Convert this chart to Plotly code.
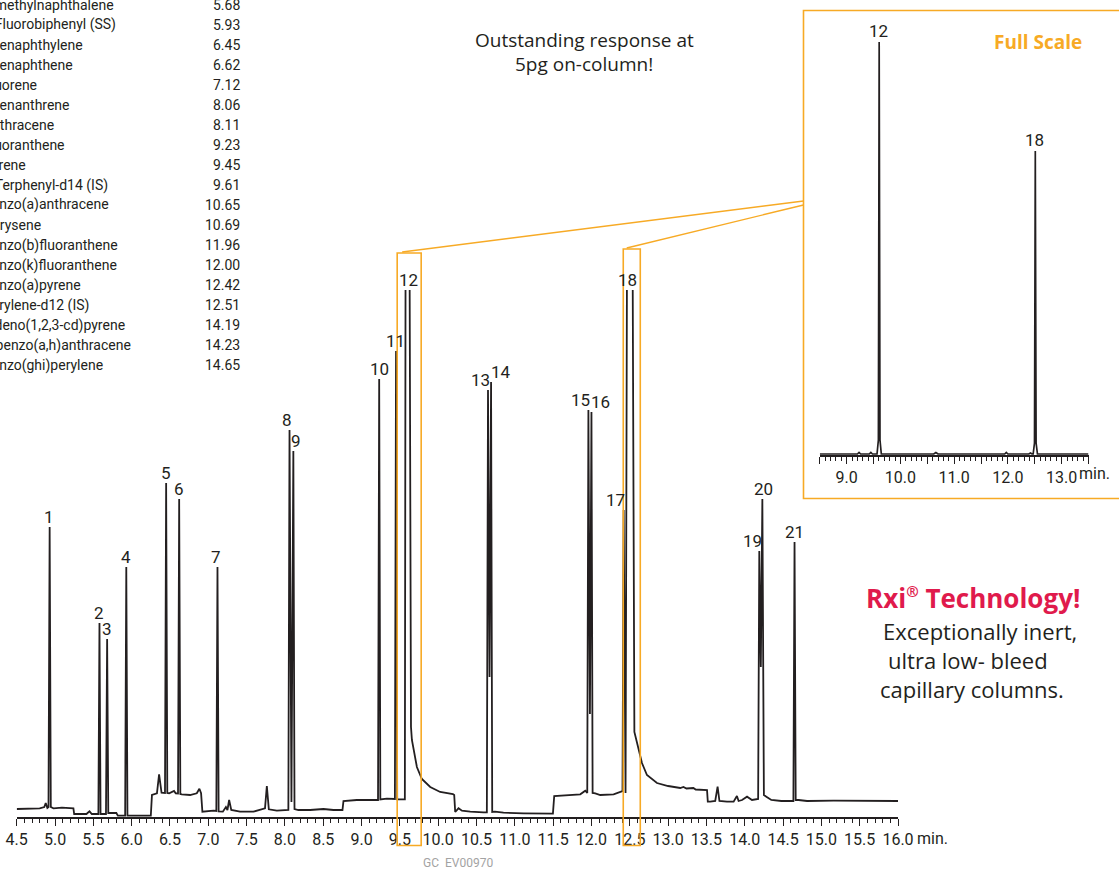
import plotly.graph_objects as go

W, H = 1119, 869

# ---------------------------------------------------------------- data
PEAK_NO = [str(i) for i in range(1, 22)]
COMPOUNDS = [
    "Naphthalene", "2-methylnaphthalene", "1-methylnaphthalene",
    "2-Fluorobiphenyl (SS)", "Acenaphthylene", "Acenaphthene", "Fluorene",
    "Phenanthrene", "Anthracene", "Fluoranthene", "Pyrene",
    "p-Terphenyl-d14 (IS)", "Benzo(a)anthracene", "Chrysene",
    "Benzo(b)fluoranthene", "Benzo(k)fluoranthene", "Benzo(a)pyrene",
    "Perylene-d12 (IS)", "Indeno(1,2,3-cd)pyrene", "Dibenzo(a,h)anthracene",
    "Benzo(ghi)perylene",
]
RET_TIME = [4.93, 5.58, 5.68, 5.93, 6.45, 6.62, 7.12, 8.06, 8.11, 9.23, 9.45,
            9.61, 10.65, 10.69, 11.96, 12.00, 12.42, 12.51, 14.19, 14.23, 14.65]
RET_TIME_TEXT = ["4.93", "5.58", "5.68", "5.93", "6.45", "6.62", "7.12", "8.06",
                 "8.11", "9.23", "9.45", "9.61", "10.65", "10.69", "11.96",
                 "12.00", "12.42", "12.51", "14.19", "14.23", "14.65"]
# apex heights on the main (expanded) scale; 12 and 18 are off scale
PEAK_APEX = [290, 194, 178, 250, 334, 318, 250, 387, 366, 438, 466, 600,
             427, 435, 407, 405, 307, 600, 266, 318, 275]

TRACE_T = [
    4.50, 4.63, 4.80, 4.86, 4.879, 4.90, 4.915, 4.93, 4.945, 4.98, 5.09, 5.24,
    5.25, 5.41, 5.45, 5.48, 5.566, 5.58, 5.594, 5.665, 5.68, 5.695, 5.80, 5.82,
    5.915, 5.93, 5.945, 6.25, 6.265, 6.33, 6.358, 6.39, 6.435, 6.45, 6.465,
    6.49, 6.553, 6.575, 6.605, 6.62, 6.635, 6.654, 6.762, 6.85, 6.884, 6.906,
    6.923, 7.067, 7.105, 7.12, 7.135, 7.19, 7.23, 7.25, 7.272, 7.30, 7.415,
    7.589, 7.676, 7.74, 7.764, 7.79, 7.894, 8.025, 8.045, 8.06, 8.085, 8.11,
    8.125, 8.176, 8.329, 8.503, 8.633, 8.751, 8.764, 8.938, 9.20, 9.215, 9.23,
    9.245, 9.33, 9.41, 9.435, 9.45, 9.465, 9.482, 9.565, 9.575, 9.625, 9.645,
    9.657, 9.722, 9.787, 9.896, 10.026, 10.192, 10.209, 10.222, 10.265, 10.31,
    10.418, 10.592, 10.635, 10.65, 10.67, 10.69, 10.705, 10.74, 10.852,
    11.113, 11.375, 11.497, 11.514, 11.68, 11.854, 11.919, 11.935, 11.945,
    11.96, 11.98, 12.00, 12.015, 12.05, 12.115, 12.289, 12.376, 12.405, 12.42,
    12.445, 12.465, 12.535, 12.56, 12.615, 12.659, 12.724, 12.855, 13.00,
    13.159, 13.20, 13.24, 13.33, 13.36, 13.508, 13.518, 13.55, 13.615, 13.646,
    13.67, 13.768, 13.855, 13.898, 13.92, 13.965, 14.03, 14.095, 14.138,
    14.175, 14.19, 14.21, 14.23, 14.25, 14.282, 14.347, 14.478, 14.608, 14.635,
    14.65, 14.665, 14.703, 14.813, 15.16, 15.42, 16.05,
]
TRACE_S = [
    8, 8.3, 8.7, 10, 14, 9, 10, 290, 10, 8.7, 9.3, 8.7,
    3, 3, 5.7, 3, 3, 194, 3, 3, 178, 4, 4, 1.3,
    1.3, 250, 1.3, 1.3, 22, 23.7, 42.7, 24.3, 24, 334, 24,
    23.7, 26, 23.7, 23.5, 318, 23, 22.7, 22, 23.7, 28.3, 23.7,
    5.3, 6.3, 6, 250, 5.5, 5.3, 10, 7, 17, 7, 5.3,
    5.3, 7.7, 8.7, 31, 7.7, 6.3, 6.3, 7, 387, 15, 366,
    8, 7, 7, 8, 7, 7, 16, 17, 17, 17, 438,
    17.5, 18.3, 18, 18, 466, 17.7, 17.7, 17.7, 600, 600, 90,
    77, 50, 38, 30, 25, 23, 22, 5, 8.7, 6.3,
    5.3, 4.7, 4.7, 427, 140, 435, 5, 5.3, 4.3,
    3.7, 3.7, 3.3, 21, 21.7, 22.7, 26.3, 24, 24,
    407, 103, 405, 24, 23.7, 22, 22.7, 25.3, 26, 307,
    24, 600, 600, 85, 67, 54, 42, 34, 31,
    29, 30, 28.5, 29, 27.5, 27, 15.3, 15.3, 16, 30.3,
    16, 15.3, 15.3, 21, 16, 17, 20.3, 17, 17.7,
    18, 266, 150, 318, 22, 20.3, 17, 16, 16, 16,
    275, 17, 17, 16, 16.3, 16, 16,
]

# digitised "full scale" inset trace
INSET_T = [8.50, 9.20, 9.23, 9.26, 9.42, 9.45, 9.48, 9.565, 9.59, 9.605, 9.62,
           9.645, 10.62, 10.66, 10.70, 11.94, 11.97, 12.00, 12.39, 12.42,
           12.45, 12.47, 12.495, 12.51, 12.525, 12.55, 13.50]
INSET_S = [1, 1, 2.5, 1, 1, 2.5, 1, 1, 15, 413, 15, 1, 1, 2.5, 1, 1, 2.5, 1, 1,
           2, 1, 1, 12, 304, 12, 1, 1]
INSET_PEAKS = ["12", "18"]
INSET_PEAK_T = [9.605, 12.51]
INSET_PEAK_S = [413, 304]

MAIN_TICKS = [4.5 + 0.5 * i for i in range(24)]
MAIN_TICK_TEXT = ["4.5", "5.0", "5.5", "6.0", "6.5", "7.0", "7.5", "8.0", "8.5",
                  "9.0", "9.5", "10.0", "10.5", "11.0", "11.5", "12.0", "12.5",
                  "13.0", "13.5", "14.0", "14.5", "15.0", "15.5", "16.0"]
INSET_TICKS = [8.5, 9.0, 9.5, 10.0, 10.5, 11.0, 11.5, 12.0, 12.5, 13.0, 13.5]
INSET_TICK_TEXT = ["", "9.0", "", "10.0", "", "11.0", "", "12.0", "", "13.0", ""]

ZOOM_WINDOWS = [(9.465, 9.778), (12.415, 12.637)]

# ---------------------------------------------------------------- style
INK = "#231F20"
ORANGE = "#F7AA25"
RED = "#E01A4C"
NUM_FONT = "Roboto, sans-serif"
TXT_FONT = "Open Sans, sans-serif"

MAIN_PX = (16.7, 898.0)     # x pixel span of main axis
MAIN_PY = (817.0, 290.0)    # y pixel span of main plot (bottom, top)
YTOP = MAIN_PY[0] - MAIN_PY[1]
INSET_PX = (819.8, 1088.5)
INSET_PY = (455.0, 20.0)

LABEL_DX = {1: -1, 7: -1, 8: -3, 9: 3, 11: -1, 13: -8, 14: 10, 15: -8,
            16: 9, 17: -8, 18: -3, 19: -7, 20: 1}
LABEL_DY = 10


def pxx(px):
    return px / W


def pyy(py):
    return 1 - py / H


def main_t_to_px(t):
    return MAIN_PX[0] + (t - 4.5) / (16.0 - 4.5) * (MAIN_PX[1] - MAIN_PX[0])


fig = go.Figure()
fig.add_trace(go.Scatter(x=TRACE_T, y=TRACE_S, mode="lines",
                         line=dict(color=INK, width=1.8), hoverinfo="skip",
                         showlegend=False, xaxis="x", yaxis="y"))
fig.add_trace(go.Scatter(x=INSET_T, y=INSET_S, mode="lines",
                         line=dict(color=INK, width=1.7), hoverinfo="skip",
                         showlegend=False, xaxis="x2", yaxis="y2"))

ann = []
# peak labels
for no, t, h in zip(PEAK_NO, RET_TIME, PEAK_APEX):
    ann.append(dict(xref="x", yref="y", x=t, y=min(h, YTOP), text=no,
                    showarrow=False, xanchor="center", yanchor="middle",
                    xshift=LABEL_DX.get(int(no), 0), yshift=LABEL_DY,
                    font=dict(family=NUM_FONT, size=17, color=INK)))
for no, t, h in zip(INSET_PEAKS, INSET_PEAK_T, INSET_PEAK_S):
    ann.append(dict(xref="x2", yref="y2", x=t, y=h, text=no, showarrow=False,
                    xanchor="center", yanchor="middle", xshift=-1, yshift=11,
                    font=dict(family=NUM_FONT, size=17, color=INK)))

# compound table (cropped at the top-left of the page; rows 1-2 are off page)
for k, (name, rt) in enumerate(zip(COMPOUNDS, RET_TIME_TEXT)):
    py = -35 + 20 * k
    if py < 0:
        continue
    ann.append(dict(xref="paper", yref="paper", x=pxx(-19.5), y=pyy(py),
                    text=name, showarrow=False, xanchor="left",
                    yanchor="middle",
                    font=dict(family=NUM_FONT, size=14, color=INK)))
    ann.append(dict(xref="paper", yref="paper", x=pxx(242), y=pyy(py),
                    text=rt, showarrow=False, xanchor="right",
                    yanchor="middle",
                    font=dict(family=NUM_FONT, size=14, color=INK)))

# free texts
free = [
    dict(x=pxx(584), y=pyy(40), text="Outstanding response at",
         font=dict(family=TXT_FONT, size=19, color=INK)),
    dict(x=pxx(584), y=pyy(64), text="5pg on-column!",
         font=dict(family=TXT_FONT, size=19, color=INK)),
    dict(x=pxx(1038), y=pyy(42), text="<b>Full Scale</b>",
         font=dict(family=TXT_FONT, size=19, color=ORANGE)),
    dict(x=pxx(973), y=pyy(598),
         text="<b>Rxi<sup><span style='font-size:15px'>®</span></sup>"
              " Technology!</b>",
         font=dict(family=TXT_FONT, size=26, color=RED)),
    dict(x=pxx(980), y=pyy(631), text="Exceptionally inert,",
         font=dict(family=TXT_FONT, size=22, color=INK)),
    dict(x=pxx(968), y=pyy(660), text="ultra low- bleed",
         font=dict(family=TXT_FONT, size=22, color=INK)),
    dict(x=pxx(972), y=pyy(689), text="capillary columns.",
         font=dict(family=TXT_FONT, size=22, color=INK)),
    dict(x=pxx(932), y=pyy(838), text="min.",
         font=dict(family=NUM_FONT, size=16, color=INK)),
    dict(x=pxx(1094), y=pyy(474), text="min.",
         font=dict(family=NUM_FONT, size=16, color=INK)),
    dict(x=pxx(458), y=pyy(863), text="GC\u00a0\u00a0EV00970",
         font=dict(family=NUM_FONT, size=12, color="#A3A3A3")),
]
for a in free:
    a.update(xref="paper", yref="paper", showarrow=False,
             xanchor="center", yanchor="middle")
ann += free

shapes = []
# inset frame (runs off the right edge)
shapes.append(dict(type="rect", xref="paper", yref="paper",
                   x0=pxx(803.5), x1=pxx(1140), y0=pyy(498.5), y1=pyy(10.5),
                   line=dict(color=ORANGE, width=1.6), layer="above"))
# windows on the main chromatogram + connector lines to the inset
win_tops = [253, 249]
link_start_t = [9.53, 12.46]
link_end_py = [201, 205]
for (t0, t1), top, ts, ey in zip(ZOOM_WINDOWS, win_tops, link_start_t,
                                 link_end_py):
    shapes.append(dict(type="rect", xref="x", yref="paper", x0=t0, x1=t1,
                       y0=pyy(845.5), y1=pyy(top),
                       line=dict(color=ORANGE, width=1.6), layer="above"))
    shapes.append(dict(type="line", xref="paper", yref="paper",
                       x0=pxx(main_t_to_px(ts)), y0=pyy(top - 1),
                       x1=pxx(803.5), y1=pyy(ey),
                       line=dict(color=ORANGE, width=1.4), layer="above"))

axis_common = dict(showgrid=False, zeroline=False, showline=True,
                   linecolor=INK, linewidth=1.6, ticks="outside",
                   tickcolor=INK, tickwidth=1.3, ticklen=7,
                   tickmode="array", fixedrange=True, tickangle=0,
                   automargin=False,
                   tickfont=dict(family=NUM_FONT, size=16, color=INK))

fig.update_layout(
    width=W, height=H,
    margin=dict(l=0, r=0, t=0, b=0, pad=0, autoexpand=False),
    paper_bgcolor="white", plot_bgcolor="rgba(0,0,0,0)", showlegend=False,
    xaxis=dict(domain=[pxx(MAIN_PX[0]), pxx(MAIN_PX[1])], range=[4.5, 16.0],
               anchor="y", tickvals=MAIN_TICKS, ticktext=MAIN_TICK_TEXT,
               minor=dict(ticks="outside", ticklen=4, tickwidth=1.1,
                          tickcolor=INK, tickmode="linear", tick0=4.5,
                          dtick=0.1, showgrid=False),
               **axis_common),
    yaxis=dict(domain=[pyy(MAIN_PY[0]), pyy(MAIN_PY[1])], range=[0, YTOP],
               anchor="x", visible=False, fixedrange=True),
    xaxis2=dict(domain=[pxx(INSET_PX[0]), pxx(INSET_PX[1])],
                range=[8.5, 13.5], anchor="y2", tickvals=INSET_TICKS,
                ticktext=INSET_TICK_TEXT,
                minor=dict(ticks="outside", ticklen=4, tickwidth=1.1,
                           tickcolor=INK, tickmode="linear", tick0=8.5,
                           dtick=0.1, showgrid=False),
                **axis_common),
    yaxis2=dict(domain=[pyy(INSET_PY[0]), pyy(INSET_PY[1])], range=[0, 435],
                anchor="x2", visible=False, fixedrange=True),
    annotations=ann,
    shapes=shapes,
)

# remove the browser's default 8px page margin so the figure fills the window
fig.write_html("out.html", config={"displayModeBar": False},
               post_script="document.body.style.margin='0';"
                           "document.body.style.overflow='hidden';")
